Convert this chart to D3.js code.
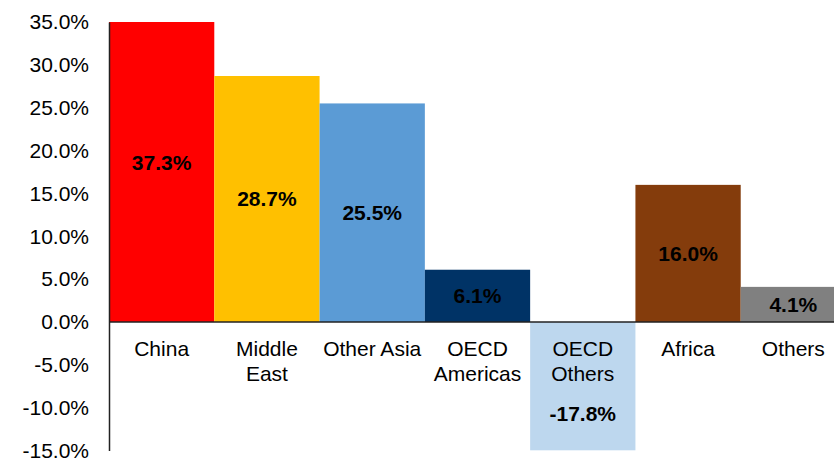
<!DOCTYPE html>
<html>
<head>
<meta charset="utf-8">
<script src="https://cdn.jsdelivr.net/npm/d3@7"></script>
<style>
  html, body { margin: 0; padding: 0; background: #fff; }
  svg { display: block; }
  text { font-family: "Liberation Sans", Arial, sans-serif; }
</style>
</head>
<body>
<svg id="chart" width="834" height="460"></svg>
<script>
const categories = ["China", "Middle East", "Other Asia", "OECD Americas", "OECD Others", "Africa", "Others"];
const categoryLines = [["China"], ["Middle", "East"], ["Other Asia"], ["OECD", "Americas"], ["OECD", "Others"], ["Africa"], ["Others"]];
const values = [37.3, 28.7, 25.5, 6.1, -17.8, 16.0, 4.1];
const colors = ["#FF0000", "#FFC000", "#5B9BD5", "#003366", "#BDD7EE", "#843C0C", "#808080"];
const yTicks = [35, 30, 25, 20, 15, 10, 5, 0, -5, -10, -15];

(function () {
const svg = d3.select("#chart");
const W = 834, H = 460;
const mLeft = 109, mTop = 22, mBottom = 450.6;
const rightEdge = 846;
const FS = 21;

const x = d3.scaleBand().domain(categories).range([mLeft, rightEdge]).padding(0);
const y = d3.scaleLinear().domain([-15, 35]).range([mBottom, mTop]);
const clampV = v => Math.max(-15, Math.min(35, v));

svg.append("defs").append("clipPath").attr("id", "plotclip")
  .append("rect").attr("x", mLeft).attr("y", mTop).attr("width", W - mLeft).attr("height", mBottom - mTop);

const g = svg.append("g").attr("clip-path", "url(#plotclip)");

g.selectAll("rect.bar").data(values).join("rect")
  .attr("class", "bar")
  .attr("x", (d, i) => x(categories[i]))
  .attr("width", x.bandwidth())
  .attr("y", d => y(Math.max(0, clampV(d))))
  .attr("height", d => Math.abs(y(clampV(d)) - y(0)))
  .attr("fill", (d, i) => colors[i]);

// zero line
svg.append("line")
  .attr("x1", mLeft).attr("x2", W)
  .attr("y1", y(0)).attr("y2", y(0))
  .attr("stroke", "#222").attr("stroke-width", 1.5);

// y axis
const yAxis = d3.axisLeft(y).tickValues(yTicks).tickSize(0).tickPadding(20)
  .tickFormat(d => d.toFixed(1) + "%");
const ya = svg.append("g").attr("transform", `translate(${mLeft},0)`).call(yAxis);
ya.select(".domain").attr("stroke", "#222").attr("stroke-width", 1.5);
ya.selectAll("text").attr("font-size", FS).attr("fill", "#000")
  .attr("font-family", "'Liberation Sans', Arial, sans-serif");

// category labels
categories.forEach((c, i) => {
  const cx = x(c) + x.bandwidth() / 2;
  const t = svg.append("text").attr("x", cx).attr("y", 356)
    .attr("text-anchor", "middle").attr("font-size", FS).attr("fill", "#000");
  categoryLines[i].forEach((ln, j) => {
    t.append("tspan").attr("x", cx).attr("dy", j === 0 ? 0 : 24.5).text(ln);
  });
});

// value labels
values.forEach((v, i) => {
  const cx = x(categories[i]) + x.bandwidth() / 2;
  const cy = v >= 0 ? y(v / 2) : y(v / 2) + 15;
  svg.append("text").attr("x", cx).attr("y", cy)
    .attr("dy", "0.35em")
    .attr("text-anchor", "middle").attr("font-size", FS).attr("font-weight", "bold")
    .attr("fill", "#000").text(v.toFixed(1) + "%");
});
})();
</script>
</body>
</html>
